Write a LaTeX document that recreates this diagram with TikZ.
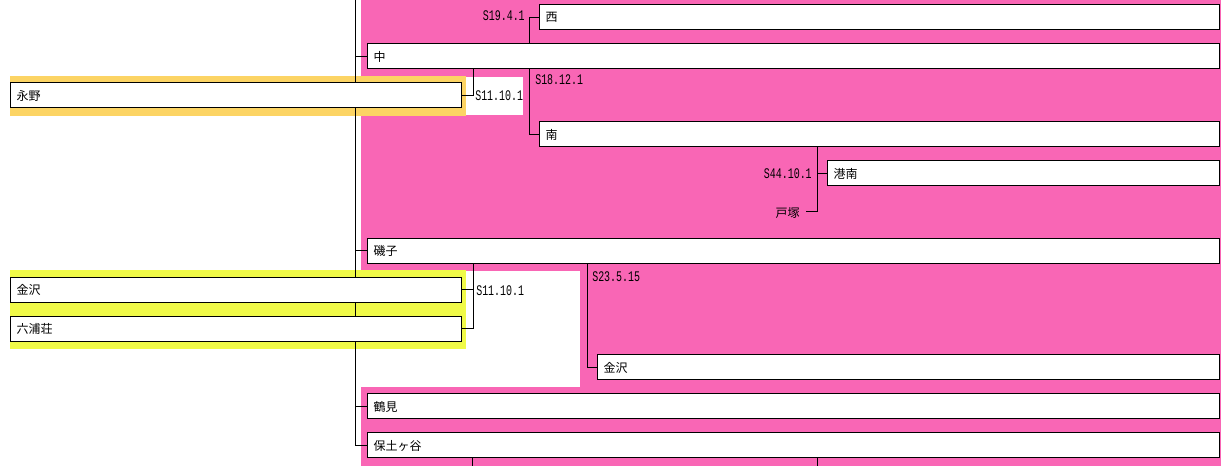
\documentclass[tikz,border=0pt]{standalone}
\usepackage{fontspec}
\newfontfamily\jfont{Noto Sans CJK JP}
\newfontfamily\datefont[FakeStretch=0.68]{Liberation Mono}
\usetikzlibrary{backgrounds}
\definecolor{cityzone}{RGB}{249,102,181}
\definecolor{naganozone}{RGB}{252,212,100}
\definecolor{kanazawazone}{RGB}{240,250,72}
\tikzset{
	ward/.style={draw, fill=white, line width=0.75pt, anchor=west, inner xsep=4.5pt, inner ysep=0pt, minimum height=18.75pt, align=left, font=\jfont\fontsize{9}{9}\selectfont},
	datelabel/.style={inner sep=0pt, font=\datefont\fontsize{11}{11}\selectfont},
	link/.style={line width=0.75pt}
}
\begin{document}
\begin{tikzpicture}[x=0.75pt, y=-0.75pt]
	\useasboundingbox (0,0) rectangle (1221,466);

	\node[ward, text width=501pt] (nishi) at (539,17.5) {西};
	\node[ward, text width=630pt] (naka) at (367,56.5) {中};
	\node[ward, text width=329.25pt] (nagano) at (10,95.5) {永野};
	\node[ward, text width=501pt] (minami) at (539,134.5) {南};
	\node[ward, text width=285pt] (konan) at (827,173.5) {港南};
	\node[ward, text width=630pt] (isogo) at (367,251) {磯子};
	\node[ward, text width=329.25pt] (kanazawaold) at (10,290) {金沢};
	\node[ward, text width=329.25pt] (mutsuura) at (10,329) {六浦荘};
	\node[ward, text width=457.5pt] (kanazawa) at (597,367.5) {金沢};
	\node[ward, text width=630pt] (tsurumi) at (367,406.5) {鶴見};
	\node[ward, text width=630pt] (hodogaya) at (367,445.5) {保土ヶ谷};

	\node[datelabel, anchor=east] (dnishi) at (525,16) {S19.4.1};
	\node[datelabel, anchor=west] (dminami) at (535,80) {S18.12.1};
	\node[datelabel, anchor=west] (dnagano) at (475,96) {S11.10.1};
	\node[datelabel, anchor=east] (dkonan) at (812,174) {S44.10.1};
	\node[anchor=east, inner sep=0pt, font=\jfont\fontsize{9}{9}\selectfont] (totsuka) at (800,213) {戸塚};
	\node[datelabel, anchor=west] (dmutsuura) at (476,291) {S11.10.1};
	\node[datelabel, anchor=west] (dkanazawa) at (592,277) {S23.5.15};

	\coordinate (trunk) at (355,0);
	\coordinate (totsukaend) at (806,212);

	\draw[link] (trunk |- naka.west) -- (naka.west);
	\draw[link] (trunk |- isogo.west) -- (isogo.west);
	\draw[link] (trunk |- tsurumi.west) -- (tsurumi.west);

	\draw[link] ([xshift=-7.5pt]nishi.west |- naka.north) |- (nishi.west);
	\draw[link] ([xshift=-7.5pt]minami.west |- naka.south) |- (minami.west);
	\draw[link] (nagano.east) -| ([xshift=8.25pt]nagano.east |- naka.south);

	\draw[link] ([xshift=-7.5pt]konan.west |- minami.south) |- (totsukaend);
	\draw[link] ([xshift=-7.5pt]konan.west) -- (konan.west);

	\draw[link] (kanazawaold.east) -| ([xshift=8.25pt]kanazawaold.east |- isogo.south);
	\draw[link] (mutsuura.east) -| ([xshift=8.25pt]mutsuura.east |- isogo.south);
	\draw[link] ([xshift=-7.5pt]kanazawa.west |- isogo.south) |- (kanazawa.west);

	\draw[link] ([xshift=78.75pt]hodogaya.south west) -- ++(0,10);
	\draw[link] ([xshift=337.5pt]hodogaya.south west) -- ++(0,10);

	\begin{scope}[on background layer]
		\fill[cityzone] (361,0) rectangle (1221,466);
		\fill[white] (466,77) rectangle (523,115);
		\fill[white] (361,271) rectangle (580,387);
		\fill[naganozone] (10,76) rectangle (466,116);
		\fill[kanazawazone] (10,270) rectangle (466,349);
		\draw[link] (trunk) |- (hodogaya.west);
	\end{scope}
\end{tikzpicture}
\end{document}
